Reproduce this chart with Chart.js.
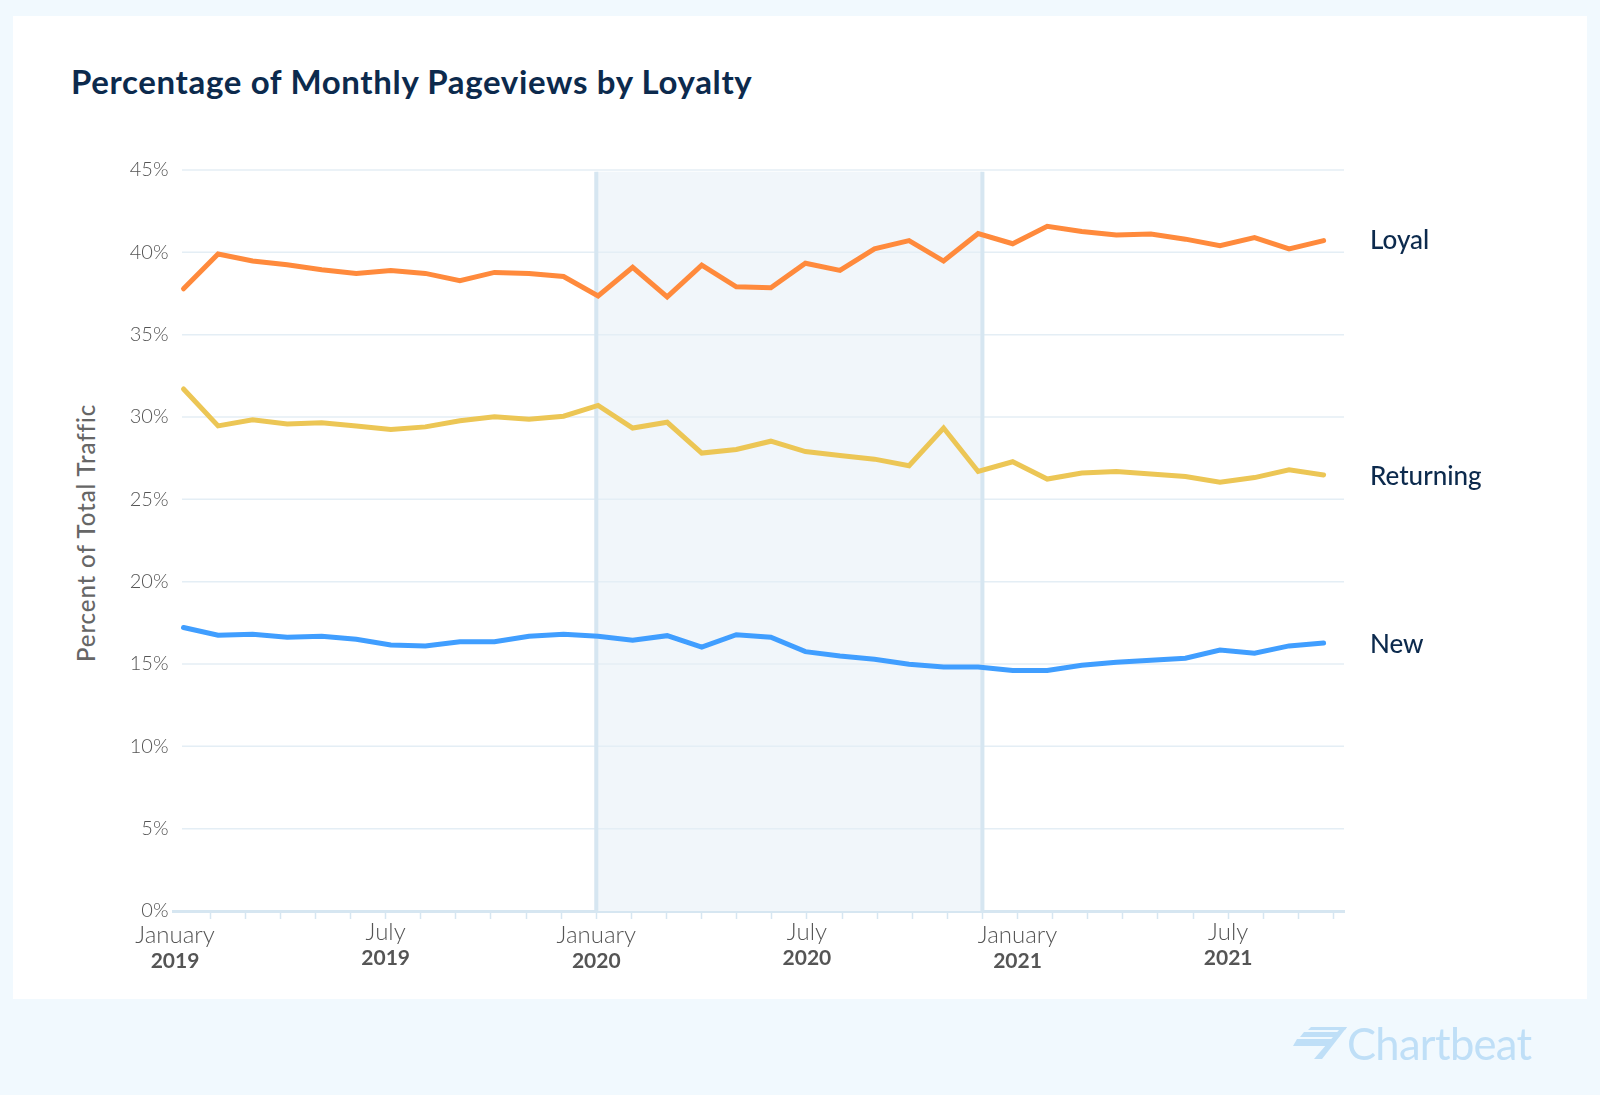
<!DOCTYPE html>
<html>
<head>
<meta charset="utf-8">
<title>Percentage of Monthly Pageviews by Loyalty</title>
<script src="https://cdn.jsdelivr.net/npm/chart.js@4"></script>
<style>
  html, body { margin: 0; padding: 0; background: #f1f9fe; }
  body { position: relative; width: 1600px; height: 1095px; overflow: hidden; font-family: Lato, "Open Sans", sans-serif; }
  #card { position: absolute; left: 13px; top: 16px; width: 1574px; height: 983px; background: #fff; }
  #title { position: absolute; left: 71px; top: 60px; font-size: 33px; line-height: 42px; font-weight: 700; letter-spacing: 0.65px; color: #0c2a4d; white-space: nowrap; }
  #yTitle { position: absolute; left: 86px; top: 533px; transform: translate(-50%, -50%) rotate(-90deg); font-size: 24px; line-height: 28px; font-weight: 500; letter-spacing: 0.9px; color: #666; white-space: nowrap; }
  #chart { position: absolute; left: 0; top: 0; }
  #brand { position: absolute; left: 1347px; top: 1017px; font-size: 43.5px; line-height: 52px; color: #bfdff7; letter-spacing: -0.7px; }
  #brandIcon { position: absolute; left: 1293px; top: 1027px; }
</style>
</head>
<body>
<div id="card"></div>
<div id="title">Percentage of Monthly Pageviews by Loyalty</div>
<div id="yTitle">Percent of Total Traffic</div>
<canvas id="chart" width="1600" height="1095"></canvas>
<svg id="brandIcon" width="56" height="33" viewBox="0 0 56 33">
  <polygon points="18,0 54,0 52,3 15,3" fill="#bfdff7"/>
  <polygon points="11,5 49,5 46,10 7,10" fill="#bfdff7"/>
  <polygon points="4,12 42,12 36,19 0,19" fill="#bfdff7"/>
  <polygon points="54,0 29,32 21,32 46,3" fill="#bfdff7"/>
</svg>
<div id="brand">Chartbeat</div>
<script>
// values, Jan 2019 - Oct 2021
const months = [0, 1, 2, 3, 4, 5, 6, 7, 8, 9, 10, 11, 12, 13, 14, 15, 16, 17, 18, 19, 20, 21, 22, 23, 24, 25, 26, 27, 28, 29, 30, 31, 32, 33];
const loyal = [37.79, 39.9, 39.47, 39.25, 38.94, 38.72, 38.9, 38.72, 38.28, 38.78, 38.72, 38.53, 37.35, 39.09, 37.29, 39.22, 37.91, 37.85, 39.34, 38.9, 40.21, 40.71, 39.47, 41.14, 40.52, 41.58, 41.27, 41.05, 41.11, 40.8, 40.4, 40.9, 40.21, 40.71];
const returning = [31.7, 29.46, 29.83, 29.58, 29.65, 29.46, 29.24, 29.4, 29.77, 30.02, 29.86, 30.05, 30.7, 29.33, 29.68, 27.81, 28.03, 28.53, 27.9, 27.66, 27.44, 27.04, 29.33, 26.69, 27.28, 26.23, 26.6, 26.69, 26.54, 26.38, 26.04, 26.32, 26.79, 26.48];
const newVisitors = [17.22, 16.75, 16.81, 16.63, 16.69, 16.5, 16.16, 16.1, 16.35, 16.35, 16.69, 16.81, 16.69, 16.44, 16.72, 16.03, 16.78, 16.63, 15.75, 15.48, 15.29, 14.98, 14.82, 14.82, 14.61, 14.61, 14.92, 15.1, 15.23, 15.35, 15.85, 15.66, 16.1, 16.28];

const seriesNames = ['Loyal', 'Returning', 'New'];
const tickMonths = { 0: 'January', 6: 'July', 12: 'January', 18: 'July', 24: 'January', 30: 'July' };
const tickYears = { 0: '2019', 6: '2019', 12: '2020', 18: '2020', 24: '2021', 30: '2021' };
const bandStart = 12;
const bandEnd = 23;

const lightBlue = '#d6e6f1';
const gridBlue = '#e4eef5';
const bandFill = '#f1f6fa';
const fontName = 'Lato';

// January labels sit a little lower than July ones in the original
const tickFont = (size, weight, julyHeight, janHeight) => ctx => ({
    family: fontName,
    size: size,
    weight: weight,
    lineHeight: (ctx.tick && tickMonths[ctx.tick.value] === 'January' ? janHeight : julyHeight) + 'px'
});

// draws the shaded period, the grid lines (they start right of the axis start) and the end labels
const decorations = {
    id: 'decorations',
    beforeDatasetsDraw(chart) {
        const c = chart.ctx;
        const x = chart.scales.x;
        const y = chart.scales.y;
        const area = chart.chartArea;
        const left = x.getPixelForValue(bandStart);
        const right = x.getPixelForValue(bandEnd);
        const top = y.getPixelForValue(44.9);
        c.save();
        c.fillStyle = bandFill;
        c.fillRect(left, top, right - left, area.bottom - top);
        c.strokeStyle = gridBlue;
        c.lineWidth = 1.5;
        y.ticks.forEach(t => {
            if (t.value === 0) return;
            const py = y.getPixelForValue(t.value);
            c.beginPath();
            c.moveTo(area.left + 8.5, py);
            c.lineTo(area.right, py);
            c.stroke();
        });
        c.strokeStyle = lightBlue;
        c.lineWidth = 4;
        [left, right].forEach(px => {
            c.beginPath();
            c.moveTo(px, top);
            c.lineTo(px, area.bottom);
            c.stroke();
        });
        c.restore();
    },
    afterDatasetsDraw(chart) {
        const c = chart.ctx;
        c.save();
        c.font = '500 26px ' + fontName;
        c.fillStyle = '#0c2a4d';
        c.textBaseline = 'middle';
        chart.data.datasets.forEach((ds, i) => {
            const pts = chart.getDatasetMeta(i).data;
            c.fillText(ds.label, 1370, pts[pts.length - 1].y + (i === 0 ? 0 : 2));
        });
        c.restore();
    }
};

new Chart(document.getElementById('chart'), {
    type: 'line',
    data: {
        labels: months,
        datasets: [
            { label: seriesNames[0], data: loyal, borderColor: '#ff8a3c' },
            { label: seriesNames[1], data: returning, borderColor: '#ecc655' },
            { label: seriesNames[2], data: newVisitors, borderColor: '#409eff' }
        ].map(ds => Object.assign(ds, {
            data: ds.data.map((v, i) => ({ x: months[i], y: v })),
            xAxisID: 'xData',
            borderWidth: 5,
            borderCapStyle: 'round',
            pointRadius: 0,
            tension: 0
        }))
    },
    options: {
        responsive: false,
        animation: false,
        devicePixelRatio: 1,
        layout: { padding: { left: 74, top: 170, right: 256, bottom: 122 } },
        plugins: { legend: { display: false }, tooltip: { enabled: false } },
        scales: {
            // the lines sit slightly off the month ticks in the original, so they get their own hidden axis
            xData: { type: 'linear', display: false, min: -0.29, max: 33.59 },
            x: {
                type: 'linear',
                position: 'bottom',
                min: -0.043,
                max: 33.3,
                afterBuildTicks: scale => { scale.ticks = months.map(m => ({ value: m })); },
                afterFit: scale => { scale.height = 37; },
                border: { color: lightBlue, width: 3 },
                grid: {
                    drawOnChartArea: false,
                    tickLength: 8,
                    tickWidth: 1.5,
                    tickColor: ctx => ctx.index === 0 ? 'transparent' : lightBlue
                },
                ticks: {
                    autoSkip: false,
                    maxRotation: 0,
                    padding: 1,
                    color: '#555',
                    font: tickFont(24, '300', 24, 30),
                    callback: v => tickMonths[v] || ''
                }
            },
            xYear: {
                type: 'linear',
                position: 'bottom',
                min: -0.043,
                max: 33.3,
                afterBuildTicks: scale => { scale.ticks = Object.keys(tickYears).map(m => ({ value: +m })); },
                afterFit: scale => { scale.height = 25; },
                border: { display: false },
                grid: { display: false, drawTicks: false },
                ticks: {
                    autoSkip: false,
                    maxRotation: 0,
                    padding: 0,
                    color: '#555',
                    font: tickFont(21, '700', 20, 27),
                    callback: v => tickYears[v] || ''
                }
            },
            y: {
                min: 0,
                max: 45,
                afterFit: scale => { scale.width = 99.5; },
                border: { display: false },
                grid: { display: false, drawTicks: false },
                ticks: {
                    stepSize: 5,
                    padding: 5,
                    color: '#555',
                    font: { family: fontName, size: 20, weight: '300' },
                    callback: v => v + '%'
                }
            }
        }
    },
    plugins: [decorations]
});
</script>
</body>
</html>
